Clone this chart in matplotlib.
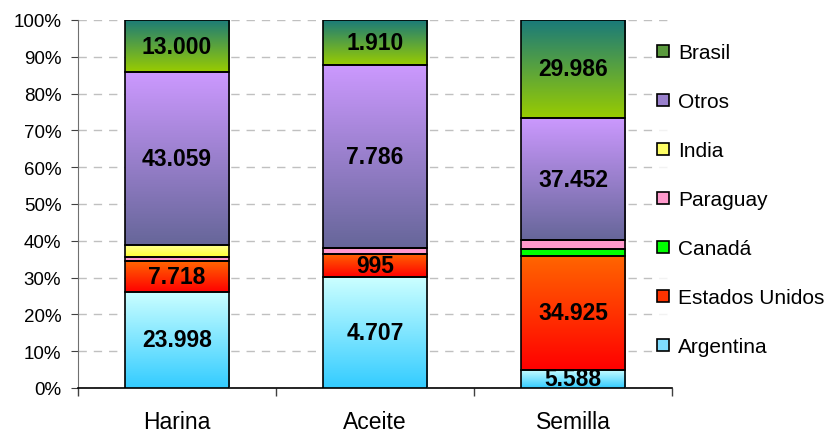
import numpy as np
import matplotlib
matplotlib.use("Agg")
import matplotlib.pyplot as plt
from matplotlib.colors import LinearSegmentedColormap
from matplotlib.patches import Patch

plt.rcParams['font.family'] = ['Liberation Sans', 'DejaVu Sans']

categories = ["Harina", "Aceite", "Semilla"]
series_names = ["Argentina", "Estados Unidos", "Canadá", "Paraguay", "India", "Otros", "Brasil"]
argentina = [23998, 4707, 5588]
estados_unidos = [7718, 995, 34925]
canada = [0, 0, 2100]
paraguay = [800, 250, 2600]
india = [3100, 0, 0]
otros = [43059, 7786, 37452]
brasil = [13000, 1910, 29986]
labelled = ["Argentina", "Estados Unidos", "Otros", "Brasil"]

values = [argentina, estados_unidos, canada, paraguay, india, otros, brasil]
# gradient colours (top, bottom)
grads = {
    "Argentina": ("#CCFFFF", "#33CCFF"),
    "Estados Unidos": ("#FF6600", "#FF0000"),
    "Canadá": ("#00FF00", "#00FF00"),
    "Paraguay": ("#FF99CC", "#FF99CC"),
    "India": ("#FFFF99", "#FFFF33"),
    "Otros": ("#CC99FF", "#666699"),
    "Brasil": ("#1A7A7A", "#99CC00"),
}
legend_cols = {
    "Argentina": "#7FDDFF", "Estados Unidos": "#FF3300", "Canadá": "#00FF00",
    "Paraguay": "#FF99CC", "India": "#FFFF66", "Otros": "#9980CC", "Brasil": "#5A9A3D",
}

def fmt(v):
    return f"{v:,}".replace(",", ".")

fig = plt.figure(figsize=(8.29, 4.35), dpi=100)
ax = fig.add_axes([78/829, 1-389/435, (672-78)/829, (389-21)/435])

data = np.array(values, dtype=float)
totals = data.sum(axis=0)
pct = data / totals * 100
x = np.arange(len(categories))
width = 0.53
bottom = np.zeros(len(categories))
for i, name in enumerate(series_names):
    bars = ax.bar(x, pct[i], width, bottom=bottom, facecolor="none",
                  edgecolor="black", linewidth=1.2, zorder=4)
    top_c, bot_c = grads[name]
    cmap = LinearSegmentedColormap.from_list(name, [bot_c, top_c])
    grad = np.linspace(0, 1, 256).reshape(-1, 1)
    for j, p in enumerate(bars.patches):
        h = p.get_height()
        if h <= 0:
            continue
        x0 = p.get_x()
        y0 = p.get_y()
        ax.imshow(grad, extent=[x0, x0 + p.get_width(), y0, y0 + h], origin="lower",
                  aspect="auto", cmap=cmap, zorder=3, interpolation="bilinear")
        if name in labelled:
            ax.text(x0 + p.get_width()/2, y0 + h/2, fmt(int(values[i][j])),
                    ha="center", va="center", fontsize=16.5, fontweight="bold",
                    color="black", zorder=6)
    bottom += pct[i]

ax.set_xlim(-0.5, len(categories) - 0.5)
ax.set_ylim(0, 100)
ax.set_yticks(np.arange(0, 101, 10))
ax.set_yticklabels([f"{t}%" for t in range(0, 101, 10)], fontsize=13.5)
ax.set_xticks(x)
ax.set_xticklabels(categories, fontsize=16.5)
ax.set_xticks(np.arange(-0.5, len(categories), 1), minor=True)
ax.tick_params(axis="x", which="major", length=0, pad=16)
ax.tick_params(axis="x", which="minor", length=6, color="#404040", width=1)
ax.tick_params(axis="y", length=5, color="#404040", pad=7)
ax.yaxis.grid(True, color="#C0C0C0", linestyle=(0, (6, 5)), linewidth=1)
ax.set_axisbelow(True)
for s in ["top", "right"]:
    ax.spines[s].set_visible(False)
ax.spines["left"].set_color("#707070")
ax.spines["bottom"].set_color("black")
ax.spines["bottom"].set_linewidth(1.2)

handles = [Patch(facecolor=legend_cols[n], edgecolor="black", linewidth=1.2)
           for n in series_names[::-1]]
leg = fig.legend(handles, series_names[::-1], loc="upper left",
                 bbox_to_anchor=(653/829, 1-40/435), frameon=True, fontsize=15,
                 handlelength=0.55, handleheight=0.55, handletextpad=0.45,
                 labelspacing=1.44, borderaxespad=0, borderpad=0.2)
leg.get_frame().set_facecolor("white")
leg.get_frame().set_edgecolor("white")
leg.set_zorder(10)

fig.savefig("out.png", dpi=100)
